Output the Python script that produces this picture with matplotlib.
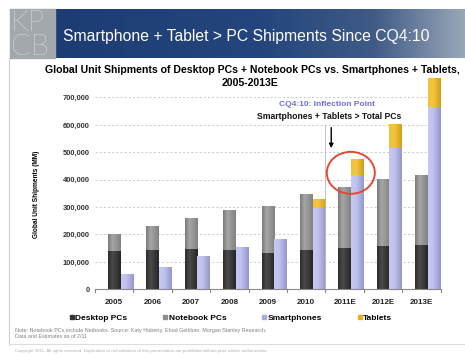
import numpy as np
import matplotlib.pyplot as plt
from matplotlib.colors import LinearSegmentedColormap
from matplotlib.lines import Line2D
from matplotlib.patches import Rectangle, Ellipse

plt.rcParams['font.family'] = ['Liberation Sans', 'DejaVu Sans']

# unit shipments, thousands (axis says MM)
years = ['2005', '2006', '2007', '2008', '2009', '2010', '2011E', '2012E', '2013E']
desktop = [140000, 143000, 148000, 142000, 133000, 142000, 150000, 157000, 162000]
notebook = [62000, 84000, 111000, 144000, 171000, 202000, 222000, 243000, 255000]
smartphones = [52000, 80000, 120000, 150000, 181000, 295000, 417000, 516000, 664000]
tablets = [0, 0, 0, 0, 0, 30000, 56000, 84000, 104000]
yticks = [0, 100000, 200000, 300000, 400000, 500000, 600000, 700000]

W, H = 465, 356
fig = plt.figure(figsize=(W / 100, H / 100), dpi=100)


def fx(px):
    return px / W


def fy(py):
    return 1 - py / H


# slide frame
fig.add_artist(Line2D([fx(9), fx(9)], [fy(58), fy(345)], color='#cfcfcf', lw=0.8))
fig.add_artist(Line2D([fx(9), 1], [fy(344), fy(344)], color='#dddddd', lw=0.8))

# header banner
bax = fig.add_axes([fx(10), fy(58), 1 - fx(10), (58 - 9) / H])
banner = LinearSegmentedColormap.from_list(
    'banner', [(0, '#1c3a72'), (0.55, '#24457d'), (0.8, '#3f5b86'), (1, '#9aa7b9')])
bax.imshow(np.linspace(0, 1, 256)[None, :], cmap=banner, aspect='auto',
           extent=[0, 1, 0, 1])
bax.set_axis_off()
fig.add_artist(Rectangle((fx(10), fy(58)), (55 - 10) / W, (58 - 9) / H,
                         transform=fig.transFigure, color='#a3a8ac', zorder=3))
fig.text(fx(11), fy(35), 'KP\nCB', color='white', fontsize=21, family='Lato',
         fontweight='light', va='center', linespacing=0.92, zorder=4)
fig.text(fx(63), fy(37), 'Smartphone + Tablet > PC Shipments Since CQ4:10',
         color='white', fontsize=11.3, va='center', zorder=4)

# chart
ax = fig.add_axes([fx(95), fy(289.3), (440.7 - 95) / W, (289.3 - 72.8) / H])
x = np.arange(len(years))
bw = 0.33

def shade(bars, stops):
    cmap = LinearSegmentedColormap.from_list('g', stops)
    for b in bars:
        x0, y0 = b.get_x(), b.get_y()
        w, h = b.get_width(), b.get_height()
        if h <= 0:
            continue
        ax.imshow(np.linspace(0, 1, 64)[None, :], cmap=cmap, aspect='auto',
                  extent=[x0, x0 + w, y0, y0 + h], zorder=2, interpolation='bilinear')
        b.set_visible(False)

b1 = ax.bar(x, desktop, bw, color='#3a3a3a')
b2 = ax.bar(x, notebook, bw, bottom=desktop, color='#999999')
b3 = ax.bar(x + bw, smartphones, bw, color='#b4b6e6')
b4 = ax.bar(x + bw, tablets, bw, bottom=smartphones, color='#e8b522')
shade(b1, [(0, '#2c2c2c'), (0.35, '#4a4a4a'), (1, '#262626')])
shade(b2, [(0, '#7a7a7a'), (0.35, '#a6a6a6'), (1, '#828282')])
shade(b3, [(0, '#c6c8f2'), (0.4, '#c0c2ee'), (1, '#9597cc')])
shade(b4, [(0, '#f0c238'), (0.4, '#f2c63e'), (1, '#d49d18')])

ax.set_xlim(-0.5, len(years) - 0.5)
ax.set_ylim(0, 790000)
ax.set_yticks(yticks)
ax.set_yticklabels([f'{v:,}' for v in yticks], fontsize=5.4, fontweight='bold',
                   color='#333333')
ax.set_xticks(x)
ax.set_xticklabels(years, fontsize=5.8, fontweight='bold', color='#222222')
ax.tick_params(axis='both', length=0, pad=4)
ax.tick_params(axis='x', pad=7)
for s in ['left', 'right', 'top']:
    ax.spines[s].set_visible(False)
ax.spines['bottom'].set_color('#888888')
ax.spines['bottom'].set_linewidth(0.8)
for b in np.arange(-0.5, len(years), 1.0):
    ax.plot([b, b], [0, -9000], color='#888888', lw=0.8, clip_on=False)
ax.yaxis.grid(True, color='#c4c4c4', lw=0.6, ls=(0, (2.5, 2.5)))
ax.set_axisbelow(True)
ax.set_ylabel('Global Unit Shipments (MM)', fontsize=4.7, fontweight='bold',
              labelpad=12)
ax.yaxis.set_label_coords(-0.158, 0.44)

# inflection point callout
i11 = years.index('2011E')
ax.plot([i11 - 0.5, i11 - 0.5], [0, 600000], color='#bbbbbb', lw=0.6, zorder=3)
ax.annotate('', xy=(i11 - 0.35, 505000), xytext=(i11 - 0.35, 600000),
            arrowprops=dict(arrowstyle='-|>', color='black', lw=1.0,
                            mutation_scale=6), zorder=5)
ax.add_patch(Ellipse((i11 + 0.16, smartphones[i11] + 8000), 1.25, 153000,
                     fill=False, ec='#e04a36', lw=1.4, zorder=5))
ax.text(i11 - 0.46, 673000, 'CQ4:10: Inflection Point', color='#6b6fe0',
        fontsize=6.0, fontweight='bold', ha='center', va='center', zorder=5)
ax.text(i11 - 0.41, 629000, 'Smartphones + Tablets > Total PCs', color='#111111',
        fontsize=6.2, fontweight='bold', ha='center', va='center', zorder=5)

# titles
fig.text(fx(45), fy(70), 'Global Unit Shipments of Desktop PCs + Notebook PCs '
         'vs. Smartphones + Tablets,', fontsize=7.55, fontweight='bold',
         ha='left', va='center', zorder=6)
fig.text(fx(250), fy(83), '2005-2013E', fontsize=7.55, fontweight='bold',
         ha='center', va='center', zorder=6)

# legend
handles = [Line2D([], [], marker='s', ls='none', markersize=3.2, color=c)
           for c in ['#333333', '#8c8c8c', '#a8aadc', '#e4b020']]
fig.legend(handles, ['Desktop PCs', 'Notebook PCs', 'Smartphones', 'Tablets'],
           loc='center', bbox_to_anchor=(fx(231), fy(318)), ncol=4, frameon=False,
           handlelength=0.5, handletextpad=0.15, columnspacing=4.3,
           prop={'size': 6.0, 'weight': 'bold'})

# notes
fig.text(fx(15), fy(330.5), 'Note: Notebook PCs include Netbooks. Source: Katy Huberty, '
         'Ehud Gelblum, Morgan Stanley Research.', fontsize=3.9, color='#808080',
         va='center')
fig.text(fx(15), fy(336.7), 'Data and Estimates as of 2/11', fontsize=3.9,
         color='#808080', va='center')
fig.text(fx(15), fy(350.7), 'Copyright 2011. All rights reserved. Duplication or '
         'redistribution of this presentation are prohibited without prior written '
         'authorization.', fontsize=3.2, color='#b0b0b0', va='center')

fig.savefig('out.png', dpi=100)
